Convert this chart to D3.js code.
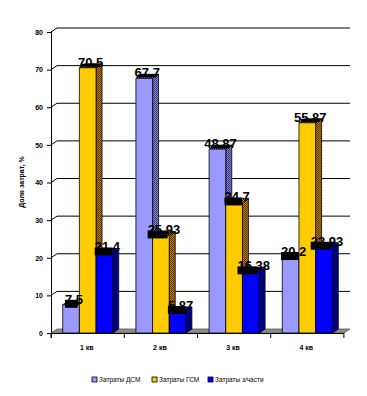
<!DOCTYPE html>
<html><head><meta charset="utf-8">
<script src="https://cdn.jsdelivr.net/npm/d3@7"></script>
<style>body{margin:0;background:#fff}svg{display:block}</style>
</head><body>
<svg id="c" width="367" height="396"></svg>
<script>
const categories = ["1 кв", "2 кв", "3 кв", "4 кв"];
const seriesNames = ["Затраты ДСМ", "Затраты ГСМ", "Затраты з/части"];
const dsm = [7.5, 67.7, 48.87, 20.2];
const gsm = [70.5, 25.93, 34.7, 55.87];
const parts = [21.4, 5.87, 16.38, 22.93];
const yTicks = [0, 10, 20, 30, 40, 50, 60, 70, 80];
const yTitle = "Доля затрат, %";

const series = [dsm, gsm, parts];
const front = ["#9999FF", "#FFCC00", "#0000FF"];
const svg = d3.select("#c");
const DX = 6, DY = -4;
const left = 51, right = 344;
const y = d3.scaleLinear().domain([0, 80]).range([333, 32]);
const x0 = d3.scaleBand().domain(categories).range([left, right]).paddingInner(0.317).paddingOuter(0.16);
const x1 = d3.scaleBand().domain(d3.range(3)).range([0, x0.bandwidth()]);

const defs = svg.append("defs");
function checker(id, a, b) {
  const p = defs.append("pattern").attr("id", id).attr("width", 2).attr("height", 2).attr("patternUnits", "userSpaceOnUse");
  p.append("rect").attr("width", 2).attr("height", 2).attr("fill", a);
  p.append("rect").attr("width", 1).attr("height", 1).attr("fill", b);
  p.append("rect").attr("x", 1).attr("y", 1).attr("width", 1).attr("height", 1).attr("fill", b);
}
checker("s0", "#8080d0", "#404080");
checker("s1", "#b07a00", "#6a3a00");
checker("t0", "#9999FF", "#000000");
checker("t1", "#FFCC00", "#000000");
const sideFill = ["url(#s0)", "url(#s1)", "#000080"];
const topFill = ["url(#t0)", "url(#t1)", "#0000CC"];

const g = svg.append("g");
yTicks.filter(t => t > 0).forEach(t => {
  g.append("path").attr("d", `M${left},${y(t)}L${left + DX},${y(t) + DY}L${right + DX},${y(t) + DY}`)
    .attr("fill", "none").attr("stroke", "#000").attr("stroke-width", 1);
});
svg.append("path").attr("d", `M${left},${y(0)}L${left + DX},${y(0) + DY}L${right + DX},${y(0) + DY}L${right},${y(0)}Z`)
  .attr("fill", "#8c8c8c").attr("stroke", "#555").attr("stroke-width", 0.8);

const ya = svg.append("g").attr("transform", `translate(${left},0)`)
  .call(d3.axisLeft(y).tickValues(yTicks).tickSize(4).tickPadding(4).tickFormat(d3.format("d")));
ya.select(".domain").remove();
ya.selectAll("line").attr("stroke", "#000");
ya.selectAll("text").attr("font-family", "Arial, Liberation Sans, sans-serif").attr("font-size", 7).attr("font-weight", "bold").attr("fill", "#000");
svg.append("line").attr("x1", left + 0.5).attr("x2", left + 0.5).attr("y1", 31).attr("y2", 338).attr("stroke", "#000");

const bounds = [left].concat(categories.map(c => x0(c) - x0.step() * x0.paddingInner() / 2 + x0.step()));
bounds.forEach(b => svg.append("line").attr("x1", b).attr("x2", b).attr("y1", 333).attr("y2", 338).attr("stroke", "#000"));
svg.append("line").attr("x1", left).attr("x2", right).attr("y1", 333.5).attr("y2", 333.5).attr("stroke", "#000");
svg.selectAll(".xl").data(categories).join("text").attr("class", "xl")
  .attr("x", c => x0(c) + x0.bandwidth() / 2 - 1).attr("y", 350)
  .attr("text-anchor", "middle").attr("font-family", "Arial, Liberation Sans, sans-serif")
  .attr("font-size", 7).attr("font-weight", "bold").text(c => c);

const bars = svg.append("g");
categories.forEach((c, ci) => {
  series.forEach((s, si) => {
    const xl = x0(c) + x1(si), w = x1.bandwidth(), top = y(s[ci]), bot = y(0);
    const gg = bars.append("g").attr("stroke", "#000").attr("stroke-width", 0.8).attr("stroke-linejoin", "round");
    gg.append("path").attr("d", `M${xl + w},${top}L${xl + w + DX},${top + DY}L${xl + w + DX},${bot + DY}L${xl + w},${bot}Z`).attr("fill", sideFill[si]);
    gg.append("path").attr("d", `M${xl},${top}L${xl + DX},${top + DY}L${xl + w + DX},${top + DY}L${xl + w},${top}Z`).attr("fill", topFill[si]);
    gg.append("rect").attr("x", xl).attr("y", top).attr("width", w).attr("height", bot - top).attr("fill", front[si]);
  });
});

const lab = svg.append("g");
categories.forEach((c, ci) => {
  series.forEach((s, si) => {
    const v = s[ci];
    const xl = x0(c) + x1(si), w = x1.bandwidth(), top = y(v);
    const cx = xl + w / 2 + 3;
    const t = lab.append("text").attr("x", cx).attr("y", top - 1).attr("text-anchor", "middle")
      .attr("font-family", "Arial, Liberation Sans, sans-serif").attr("font-size", 13).attr("font-weight", "bold")
      .attr("fill", "#000").text(String(v));
    const tw = t.node().getComputedTextLength();
    if (v < 45) {
      lab.insert("rect", "text").attr("x", cx - tw / 2).attr("y", top - 5).attr("width", Math.min(tw * 0.7, 20)).attr("height", 8).attr("fill", "#000");
    } else {
      lab.insert("rect", "text").attr("x", xl + 2).attr("y", top - 4).attr("width", w + 2).attr("height", 3).attr("fill", "#000");
    }
  });
});

svg.append("text").attr("transform", "translate(24,182) rotate(-90)").attr("text-anchor", "middle")
  .attr("font-family", "Arial, Liberation Sans, sans-serif").attr("font-size", 7).attr("font-weight", "bold").text(yTitle);

const lx = [92, 152, 208];
const lg = svg.append("g");
seriesNames.forEach((n, i) => {
  lg.append("rect").attr("x", lx[i]).attr("y", 377).attr("width", 5).attr("height", 5).attr("fill", front[i]).attr("stroke", "#000").attr("stroke-width", 0.8);
  lg.append("text").attr("x", lx[i] + 7).attr("y", 382).attr("font-family", "Arial, Liberation Sans, sans-serif").attr("font-size", 6.5).text(n);
});
</script>
</body></html>
